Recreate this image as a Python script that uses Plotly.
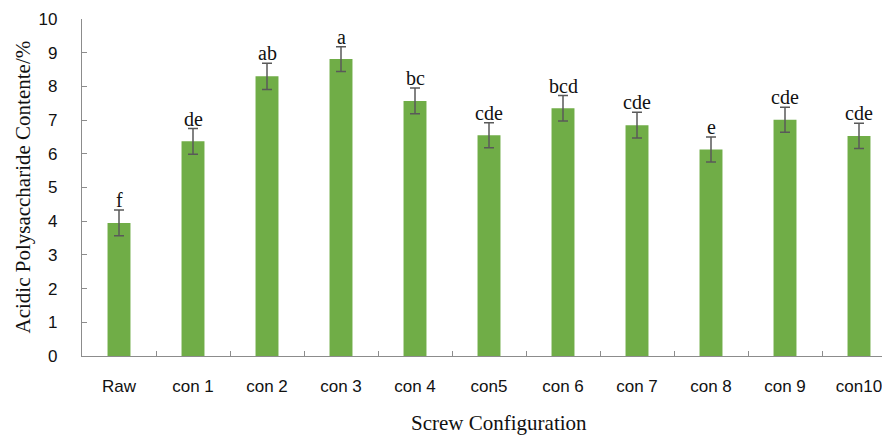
import plotly.graph_objects as go

# Acidic polysaccharide content by screw configuration
categories = ["Raw", "con 1", "con 2", "con 3", "con 4", "con5",
              "con 6", "con 7", "con 8", "con 9", "con10"]
content = [3.95, 6.37, 8.30, 8.81, 7.57, 6.55, 7.35, 6.85, 6.13, 7.01, 6.53]
std_err = [0.38, 0.38, 0.39, 0.37, 0.38, 0.37, 0.38, 0.38, 0.37, 0.37, 0.375]
letters = ["f", "de", "ab", "a", "bc", "cde", "bcd", "cde", "e", "cde", "cde"]

y_ticks = list(range(0, 11))

axis_color = "#8c8c8c"
sans = "Liberation Sans, Arial, sans-serif"
serif = "Liberation Serif, Times New Roman, serif"

fig = go.Figure()
fig.add_trace(go.Bar(
    x=categories,
    y=content,
    width=0.31,
    marker=dict(color="#70AD47", line=dict(width=0)),
    error_y=dict(type="data", array=std_err, visible=True,
                 color="#595959", thickness=1.5, width=5),
    hoverinfo="x+y",
))

# significance letters above each error bar
for cat, val, err, lab in zip(categories, content, std_err, letters):
    fig.add_annotation(x=cat, y=val + err, text=lab, showarrow=False,
                       xanchor="center", yanchor="bottom", yshift=-3,
                       font=dict(family=serif, size=20, color="#111111"))

fig.add_annotation(xref="paper", yref="paper", x=(499 - 82) / 800, y=0,
                   yshift=-81, text="Screw Configuration", showarrow=False,
                   xanchor="center", yanchor="bottom",
                   font=dict(family=serif, size=21, color="#111111"))
fig.add_annotation(xref="paper", yref="paper", x=0, xshift=-60, y=0.5,
                   text="Acidic Polysaccharide Contente/%", showarrow=False,
                   textangle=-90, xanchor="center", yanchor="middle",
                   font=dict(family=serif, size=21, color="#111111"))

fig.update_layout(
    width=882, height=437,
    margin=dict(l=82, r=0, t=19, b=81),
    paper_bgcolor="white", plot_bgcolor="white",
    showlegend=False,
    bargap=0.69,
    xaxis=dict(
        type="category",
        range=[-0.5, -0.5 + 800 / 74],
        showline=True, linecolor=axis_color, linewidth=1.3,
        ticks="inside", tickson="boundaries", ticklen=5,
        tickcolor=axis_color, tickwidth=1.2,
        ticklabelstandoff=14,
        tickfont=dict(family=sans, size=17, color="#111111"),
        showgrid=False, zeroline=False,
    ),
    yaxis=dict(
        range=[0, 10],
        tickvals=y_ticks,
        showline=True, linecolor=axis_color, linewidth=1.3,
        ticks="inside", ticklen=5, tickcolor=axis_color, tickwidth=1.2,
        ticklabelstandoff=20,
        tickfont=dict(family=sans, size=17, color="#111111"),
        showgrid=False, zeroline=False,
    ),
)

fig.write_html("out.html")
